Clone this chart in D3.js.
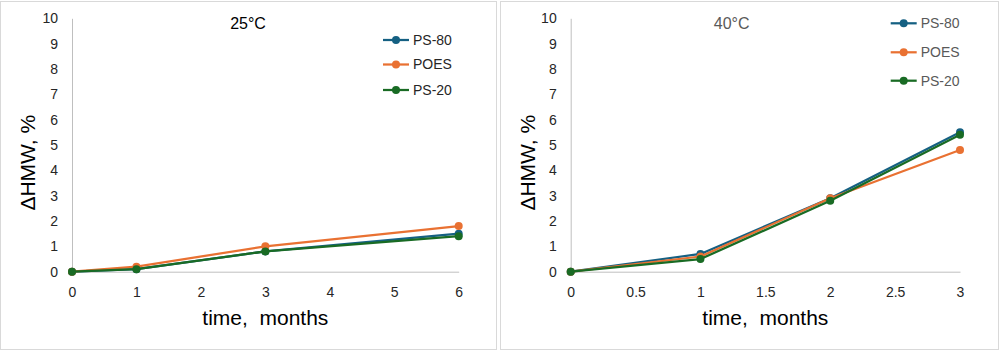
<!DOCTYPE html>
<html>
<head>
<meta charset="utf-8">
<script src="https://cdn.jsdelivr.net/npm/d3@7"></script>
<style>
  body { margin: 0; background: #fff; }
  svg { display: block; font-family: "Liberation Sans", Arial, sans-serif; }
</style>
</head>
<body>
<svg id="chart" width="999" height="352"></svg>
<script>
// series names and colours
var seriesNames = ['PS-80', 'POES', 'PS-20'];
var seriesColors = ['#156082', '#E97132', '#196B24'];

// 25°C panel
var months25 = [0, 1, 3, 6];
var ps80_25 = [0, 0.1, 0.8, 1.5];
var poes_25 = [0, 0.2, 1.0, 1.8];
var ps20_25 = [0, 0.1, 0.8, 1.4];
var xTicks25 = [0, 1, 2, 3, 4, 5, 6];

// 40°C panel
var months40 = [0, 1, 2, 3];
var ps80_40 = [0, 0.7, 2.9, 5.5];
var poes_40 = [0, 0.6, 2.9, 4.8];
var ps20_40 = [0, 0.5, 2.8, 5.4];
var xTicks40 = [0, 0.5, 1, 1.5, 2, 2.5, 3];

var yTicks = [0, 1, 2, 3, 4, 5, 6, 7, 8, 9, 10];

var svg = d3.select('#chart');

function drawPanel(opt) {
  var g = svg.append('g').attr('transform', `translate(${opt.left}, 0)`);

  g.append('rect')
    .attr('x', 0.5)
    .attr('y', 1.5)
    .attr('width', opt.width - 1)
    .attr('height', 348)
    .attr('fill', '#fff')
    .attr('stroke', '#d9d9d9')
    .attr('stroke-width', 1);

  var xScale = d3.scaleLinear()
    .domain(d3.extent(opt.xTicks))
    .range([opt.x0, opt.x1]);
  var yScale = d3.scaleLinear()
    .domain([0, 10])
    .range([271.7, 18.3]);

  // axes without tick marks
  var xAxis = g.append('g')
    .attr('transform', `translate(0, ${yScale(0)})`)
    .call(d3.axisBottom(xScale).tickValues(opt.xTicks).tickSize(0).tickPadding(14).tickFormat(d3.format('')));
  var yAxis = g.append('g')
    .attr('transform', `translate(${opt.x0}, 0)`)
    .call(d3.axisLeft(yScale).tickValues(yTicks).tickSize(0).tickPadding(14));

  [xAxis, yAxis].forEach(function (a) {
    a.select('.domain').attr('stroke', '#bfbfbf').attr('stroke-width', 1);
    a.selectAll('text')
      .attr('fill', '#262626')
      .style('font-size', '14px')
      .style('font-family', '"Liberation Sans", Arial, sans-serif');
  });
  xAxis.selectAll('text').attr('dy', '0.35em').attr('y', 20);

  var line = d3.line()
    .x(d => xScale(d[0]))
    .y(d => yScale(d[1]));

  opt.series.forEach(function (vals, i) {
    var pts = opt.xs.map((x, j) => [x, vals[j]]);
    g.append('path')
      .datum(pts)
      .attr('fill', 'none')
      .attr('stroke', seriesColors[i])
      .attr('stroke-width', 2.25)
      .attr('stroke-linejoin', 'round')
      .attr('d', line);
    g.selectAll('.pt' + i)
      .data(pts)
      .enter()
      .append('circle')
      .attr('class', 'pt' + i)
      .attr('cx', d => xScale(d[0]))
      .attr('cy', d => yScale(d[1]))
      .attr('r', 4)
      .attr('fill', seriesColors[i]);
  });

  // title
  g.append('text')
    .attr('x', opt.titleX)
    .attr('y', 29)
    .attr('text-anchor', 'middle')
    .attr('fill', opt.titleColor)
    .style('font-size', '16px')
    .text(opt.title);

  // axis titles
  g.append('text')
    .attr('x', (opt.x0 + opt.x1) / 2)
    .attr('y', 325)
    .attr('text-anchor', 'middle')
    .attr('fill', '#000')
    .style('font-size', '21px')
    .style('white-space', 'pre')
    .text('time,  months');
  g.append('text')
    .attr('transform', `translate(35, ${yScale(4.3)}) rotate(-90)`)
    .attr('text-anchor', 'middle')
    .attr('fill', '#000')
    .style('font-size', '21px')
    .text('\u0394HMW, %');

  // legend
  seriesNames.forEach(function (name, i) {
    var ly = opt.legendY[i];
    var lg = g.append('g');
    lg.append('line')
      .attr('x1', opt.legendX).attr('x2', opt.legendX + 26)
      .attr('y1', ly).attr('y2', ly)
      .attr('stroke', seriesColors[i]).attr('stroke-width', 2.25);
    lg.append('circle')
      .attr('cx', opt.legendX + 13).attr('cy', ly).attr('r', 4)
      .attr('fill', seriesColors[i]);
    lg.append('text')
      .attr('x', opt.legendX + 30)
      .attr('y', ly)
      .attr('dy', '0.35em')
      .attr('fill', opt.legendColor)
      .style('font-size', '14px')
      .text(name);
  });
}

drawPanel({
  left: 0, width: 497,
  x0: 72, x1: 458.7,
  xTicks: xTicks25, xs: months25,
  series: [ps80_25, poes_25, ps20_25],
  title: '25\u00B0C', titleX: 248, titleColor: '#000',
  legendX: 383, legendY: [40, 64.5, 90], legendColor: '#262626'
});

drawPanel({
  left: 500, width: 499,
  x0: 70.7, x1: 460,
  xTicks: xTicks40, xs: months40,
  series: [ps80_40, poes_40, ps20_40],
  title: '40\u00B0C', titleX: 231.7, titleColor: '#595959',
  legendX: 390.7, legendY: [23.3, 52.3, 80.7], legendColor: '#595959'
});
</script>
</body>
</html>
